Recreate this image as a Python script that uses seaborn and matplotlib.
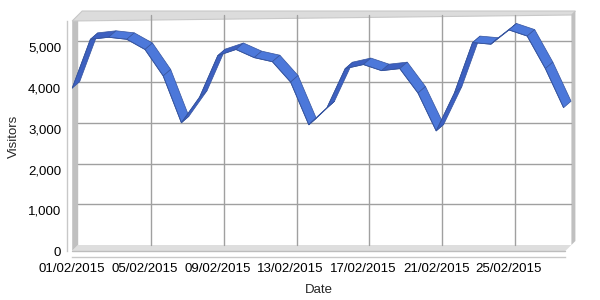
import numpy as np
import pandas as pd
import matplotlib
matplotlib.use("Agg")
import matplotlib.pyplot as plt
import seaborn as sns
from matplotlib.patches import Polygon

# ---- data ----
dates = pd.date_range("2015-02-01", periods=28).strftime("%d/%m/%Y").tolist()
visitors = [4000, 5200, 5250, 5200, 4950, 4300, 3150, 3780, 4800, 4950,
            4750, 4650, 4150, 3100, 3520, 4480, 4580, 4430, 4480, 3880,
            2950, 3880, 5120, 5080, 5430, 5280, 4480, 3520]
y_ticks = [0, 1000, 2000, 3000, 4000, 5000]
x_tick_idx = [0, 4, 8, 12, 16, 20, 24]

sns.set_theme(style="white")
plt.rcParams['font.family'] = ['Liberation Sans', 'DejaVu Sans']

W, H = 600, 300
fig = plt.figure(figsize=(6, 3), dpi=100)
left_px, right_px, bot_px, top_px = 72.2, 565.4, 251, 21
ax = fig.add_axes([left_px / W, (H - bot_px) / H, (right_px - left_px) / W, (bot_px - top_px) / H])
xmax, ymax = 27.1, 5650
ax.set_xlim(0, xmax)
ax.set_ylim(0, ymax)

ppx = (right_px - left_px) / xmax   # px per day
ppy = (bot_px - top_px) / ymax      # px per visitor
dpx = 6
dx, dy = dpx / ppx, dpx / ppy
# ribbon depth
rdx, rdy = 7.5 / ppx, 6.5 / ppy

# walls / floor
wall = '#c0c0c0'
floor = '#dedede'
ax.add_patch(Polygon([(0, 0), (0, ymax), (dx, ymax + dy), (dx, dy)], closed=True,
                     facecolor=wall, edgecolor='none', clip_on=False, zorder=1))
ax.add_patch(Polygon([(0, 0), (xmax, 0), (xmax + dx, dy), (dx, dy)], closed=True,
                     facecolor=floor, edgecolor='none', clip_on=False, zorder=1))
ax.plot([0, xmax], [0, 0], color='#bdbdbd', lw=1, clip_on=False, zorder=2)
# back wall thickness (top and right bands)
t = 4
ax.add_patch(Polygon([(0, ymax), (dx, ymax + dy), (dx + t / ppx, ymax + dy + t / ppy),
                      (xmax + dx + t / ppx, ymax + dy + t / ppy), (xmax + dx, ymax + dy)],
                     closed=True, facecolor='#dcdcdc', edgecolor='#c8c8c8', lw=0.8,
                     clip_on=False, zorder=1))
ax.add_patch(Polygon([(xmax, 0), (xmax + dx, dy), (xmax + dx, ymax + dy),
                      (xmax + dx + t / ppx, ymax + dy + t / ppy), (xmax + dx + t / ppx, dy + t / ppy)],
                     closed=True, facecolor=wall, edgecolor='none', clip_on=False, zorder=1))

# gridlines on back plane
grid_c = '#a0a0a0'
for i in x_tick_idx[1:]:
    ax.plot([i + dx, i + dx], [dy, ymax + dy], color=grid_c, lw=1, clip_on=False, zorder=1.5)
for v in y_ticks[1:]:
    ax.plot([dx, xmax + dx], [v + dy, v + dy], color=grid_c, lw=1, clip_on=False, zorder=1.5)

# ribbon
xs = np.arange(len(visitors))
vals = np.array(visitors, dtype=float)
for i in range(len(xs) - 1):
    x0, x1, y0, y1 = xs[i], xs[i + 1], vals[i], vals[i + 1]
    rising = y1 > y0
    fc = '#3d60c0' if rising else '#4c78da'
    ax.add_patch(Polygon([(x0, y0), (x1, y1), (x1 + rdx, y1 + rdy), (x0 + rdx, y0 + rdy)],
                         closed=True, facecolor=fc, edgecolor='#35549f', lw=0.5,
                         clip_on=False, zorder=3))
df = pd.DataFrame({"day": xs, "Visitors": vals})
sns.lineplot(data=df, x="day", y="Visitors", ax=ax, color='#35549f', lw=0.6, zorder=4)

# axes styling
for s in ['top', 'right']:
    ax.spines[s].set_visible(False)
for s in ['left', 'bottom']:
    ax.spines[s].set_position(('outward', 4))
    ax.spines[s].set_color('#c8c8c8')
    ax.spines[s].set_linewidth(1)
ax.set_xticks(x_tick_idx)
ax.set_xticklabels([dates[i] for i in x_tick_idx])
ax.set_yticks(y_ticks)
ax.set_yticklabels([f"{v:,}" for v in y_ticks])
ax.tick_params(axis='both', direction='in', length=4, color='#c8c8c8', width=1,
               labelsize=9.5, labelcolor='black')
ax.tick_params(axis='y', pad=4)
ax.tick_params(axis='x', pad=5)
ax.set_xlabel("Date", fontsize=9.5, labelpad=6)
ax.set_ylabel("Visitors", fontsize=9.5, labelpad=6)
ax.grid(False)
ax.set_facecolor('none')

fig.savefig("out.png", dpi=100)
